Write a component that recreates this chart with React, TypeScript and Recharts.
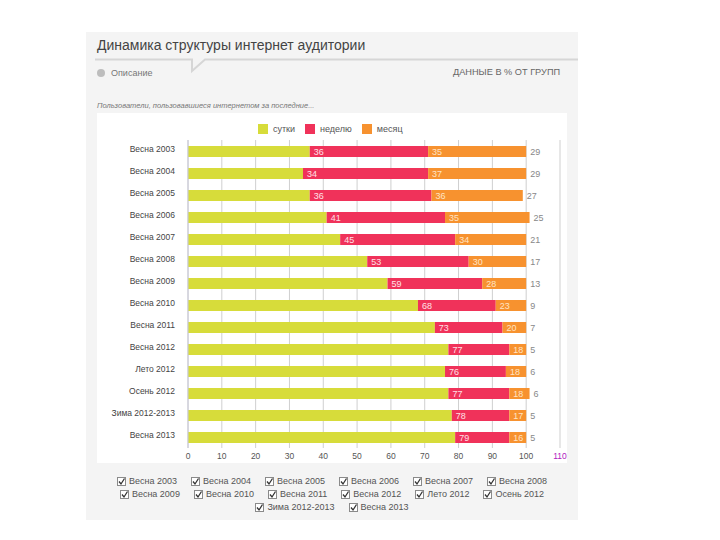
import { BarChart, Bar, XAxis, YAxis, CartesianGrid, LabelList } from "recharts";

// periods (rows) and shares of each audience group, %
const categories = [
  "Весна 2003",
  "Весна 2004",
  "Весна 2005",
  "Весна 2006",
  "Весна 2007",
  "Весна 2008",
  "Весна 2009",
  "Весна 2010",
  "Весна 2011",
  "Весна 2012",
  "Лето 2012",
  "Осень 2012",
  "Зима 2012-2013",
  "Весна 2013",
];
const sutki = [36, 34, 36, 41, 45, 53, 59, 68, 73, 77, 76, 77, 78, 79];
const nedelyu = [35, 37, 36, 35, 34, 30, 28, 23, 20, 18, 18, 18, 17, 16];
const mesyats = [29, 29, 27, 25, 21, 17, 13, 9, 7, 5, 6, 6, 5, 5];
const xTicks = [0, 10, 20, 30, 40, 50, 60, 70, 80, 90, 100, 110];

const seriesNames = ["сутки", "неделю", "месяц"];
const colors = ["#d7dc3a", "#f0325a", "#f7922f"];

const data = categories.map((name, i) => ({
  name,
  sutki: sutki[i],
  nedelyu: nedelyu[i],
  mesyats: mesyats[i],
}));

const font = "'Liberation Sans', Arial, sans-serif";

const XTick = (props: any) => {
  const { x, y, payload } = props;
  return (
    <text
      x={x}
      y={y + 9}
      textAnchor="middle"
      fontSize={8.5}
      fontFamily={font}
      fill={payload.value === 110 ? "#b020c0" : "#555"}
    >
      {payload.value}
    </text>
  );
};

const YTick = (props: any) => {
  const { x, y, payload } = props;
  return (
    <text x={x - 5} y={y + 1} textAnchor="end" fontSize={8.5} fontFamily={font} fill="#444">
      {payload.value}
    </text>
  );
};

const CheckBox = () => (
  <svg width={9} height={9} style={{ marginRight: 3, flex: "none" }}>
    <rect x={0.5} y={0.5} width={8} height={8} fill="#fff" stroke="#8a8a8a" />
    <path d="M2 4.5 L4 7 L7.5 1.5" fill="none" stroke="#333" strokeWidth={1.3} />
  </svg>
);

const App = () => {
  return (
    <div
      style={{
        position: "absolute",
        left: 0,
        top: 0,
        width: 720,
        height: 540,
        background: "#fff",
        fontFamily: font,
      }}
    >
      {/* grey panel */}
      <div
        style={{
          position: "absolute",
          left: 86,
          top: 32,
          width: 492,
          height: 488,
          background: "#f4f4f4",
        }}
      />
      <div
        style={{
          position: "absolute",
          left: 97,
          top: 37,
          fontSize: 14,
          color: "#444",
          whiteSpace: "nowrap",
        }}
      >
        Динамика структуры интернет аудитории
      </div>
      <svg style={{ position: "absolute", left: 86, top: 55 }} width={492} height={20}>
        <path
          d="M9 4.5 L106 4.5 L106 16 L119 4.5 L492 4.5"
          fill="none"
          stroke="#d6d6d6"
          strokeWidth={2}
        />
      </svg>
      <div
        style={{
          position: "absolute",
          left: 97,
          top: 68,
          fontSize: 9,
          color: "#777",
          display: "flex",
          alignItems: "center",
        }}
      >
        <span
          style={{
            display: "inline-block",
            width: 8,
            height: 8,
            borderRadius: 4,
            background: "#bdbdbd",
            marginRight: 6,
          }}
        />
        Описание
      </div>
      <div
        style={{
          position: "absolute",
          left: 453,
          top: 67,
          fontSize: 9.2,
          color: "#666",
          whiteSpace: "nowrap",
        }}
      >
        ДАННЫЕ В % ОТ ГРУПП
      </div>
      <div
        style={{
          position: "absolute",
          left: 97,
          top: 101,
          fontSize: 7.5,
          fontStyle: "italic",
          color: "#777",
          whiteSpace: "nowrap",
        }}
      >
        Пользователи, пользовавшиеся интернетом за последние...
      </div>

      {/* chart */}
      <div style={{ position: "absolute", left: 97, top: 113, width: 470, height: 350, background: "#fff" }}>
        <div
          style={{
            position: "absolute",
            left: 161,
            top: 11,
            display: "flex",
            fontSize: 9,
            color: "#555",
            zIndex: 1,
          }}
        >
          {seriesNames.map((s, i) => (
            <div key={s} style={{ display: "flex", alignItems: "center", marginRight: 10 }}>
              <span
                style={{ display: "inline-block", width: 10, height: 10, background: colors[i], marginRight: 5 }}
              />
              {s}
            </div>
          ))}
        </div>
        <BarChart
          width={470}
          height={350}
          data={data}
          layout="vertical"
          margin={{ top: 27, right: 7, left: 0, bottom: 0 }}
          barSize={11}
        >
          <CartesianGrid horizontal={false} stroke="#cfcfcf" />
          <XAxis
            type="number"
            domain={[0, 110]}
            ticks={xTicks}
            axisLine={false}
            tickLine={false}
            tickSize={0}
            height={15}
            tick={<XTick />}
            interval={0}
          />
          <YAxis
            type="category"
            dataKey="name"
            width={91}
            axisLine={{ stroke: "#c8c8d8" }}
            tickLine={false}
            tick={<YTick />}
            interval={0}
          />
          <Bar dataKey="sutki" stackId="a" fill={colors[0]} isAnimationActive={false}>
            <LabelList dataKey="sutki" position="right" offset={4} fill="#ffe0e6" fontSize={9} fontFamily={font} />
          </Bar>
          <Bar dataKey="nedelyu" stackId="a" fill={colors[1]} isAnimationActive={false}>
            <LabelList dataKey="nedelyu" position="right" offset={4} fill="#ffe4c4" fontSize={9} fontFamily={font} />
          </Bar>
          <Bar dataKey="mesyats" stackId="a" fill={colors[2]} isAnimationActive={false}>
            <LabelList dataKey="mesyats" position="right" offset={4} fill="#888" fontSize={9} fontFamily={font} />
          </Bar>
        </BarChart>
      </div>

      {/* period checkboxes */}
      <div
        style={{
          position: "absolute",
          left: 102,
          top: 476,
          width: 460,
          display: "flex",
          flexWrap: "wrap",
          justifyContent: "center",
          columnGap: 14,
          rowGap: 3,
          fontSize: 9,
          color: "#555",
        }}
      >
        {categories.map((c) => (
          <div key={c} style={{ display: "flex", alignItems: "center", whiteSpace: "nowrap" }}>
            <CheckBox />
            {c}
          </div>
        ))}
      </div>
    </div>
  );
};

export default App;
